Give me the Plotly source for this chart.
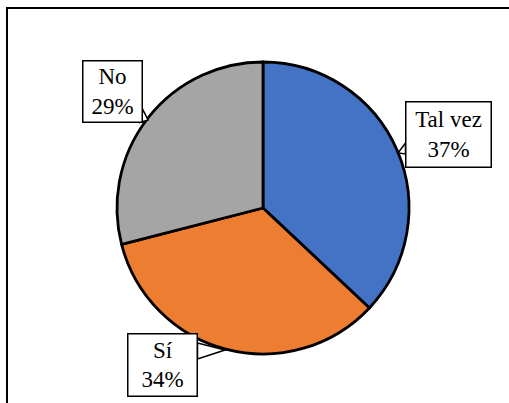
import plotly.graph_objects as go

W, H = 509, 403
labels = ["Tal vez", "Sí", "No"]
values = [37, 34, 29]
colors = ["#4472C4", "#ED7D31", "#A5A5A5"]

cx, cy, r = 263, 208, 146

def px(x):
    return x / W

def py(y):
    return 1 - y / H

fig = go.Figure(go.Pie(
    labels=labels, values=values, sort=False, direction="clockwise", rotation=0,
    marker=dict(colors=colors, line=dict(color="black", width=2.8)),
    textinfo="none", hoverinfo="label+percent", showlegend=False,
    domain=dict(x=[px(cx - r), px(cx + r)], y=[py(cy + r), py(cy - r)]),
))

total = sum(values)
# label boxes: (center x, center y, width, height) in pixels
boxes = [(448.5, 134.5, 87, 67), (162.5, 365, 71, 64), (112.5, 91.5, 61, 63)]
annos = []
for lab, v, (bx, by, bw, bh) in zip(labels, values, boxes):
    annos.append(dict(
        x=px(bx), y=py(by), xref="paper", yref="paper", showarrow=False,
        text=f"{lab}<br>{round(100 * v / total)}%",
        font=dict(family="Liberation Serif, Times New Roman, serif", size=23, color="black"),
        bgcolor="white", bordercolor="black", borderwidth=1.5, borderpad=0,
        width=bw - 3, height=bh - 3, align="center", xanchor="center", yanchor="middle",
    ))

def path(pts, close=True):
    return "M " + " L ".join(f"{px(x)} {py(y)}" for x, y in pts) + (" Z" if close else "")

shapes = [
    # chart frame: left edge and top edge
    dict(type="line", xref="paper", yref="paper", x0=px(7), x1=px(7), y0=0, y1=py(7),
         line=dict(color="black", width=2), layer="above"),
    dict(type="line", xref="paper", yref="paper", x0=px(6), x1=1, y0=py(8), y1=py(8),
         line=dict(color="black", width=2), layer="above"),
    # callout pointers
    dict(type="path", xref="paper", yref="paper", path=path([(405.5, 143), (398, 153), (405.5, 154)]),
         line=dict(color="black", width=1.5), fillcolor="white", layer="above"),
    dict(type="path", xref="paper", yref="paper", path=path([(197.5, 343), (225, 350), (197.5, 359)]),
         line=dict(color="black", width=1.5), fillcolor="white", layer="above"),
    dict(type="path", xref="paper", yref="paper", path=path([(140, 122.5), (148, 120), (143, 110)]),
         line=dict(color="black", width=1.5), fillcolor="white", layer="above"),
]

fig.update_layout(
    width=W, height=H, margin=dict(l=0, r=0, t=0, b=0),
    paper_bgcolor="white", plot_bgcolor="white",
    annotations=annos, shapes=shapes,
)
fig.write_html("out.html", config={"displayModeBar": False},
               post_script="document.body.style.margin='0px';document.body.style.overflow='hidden';")
